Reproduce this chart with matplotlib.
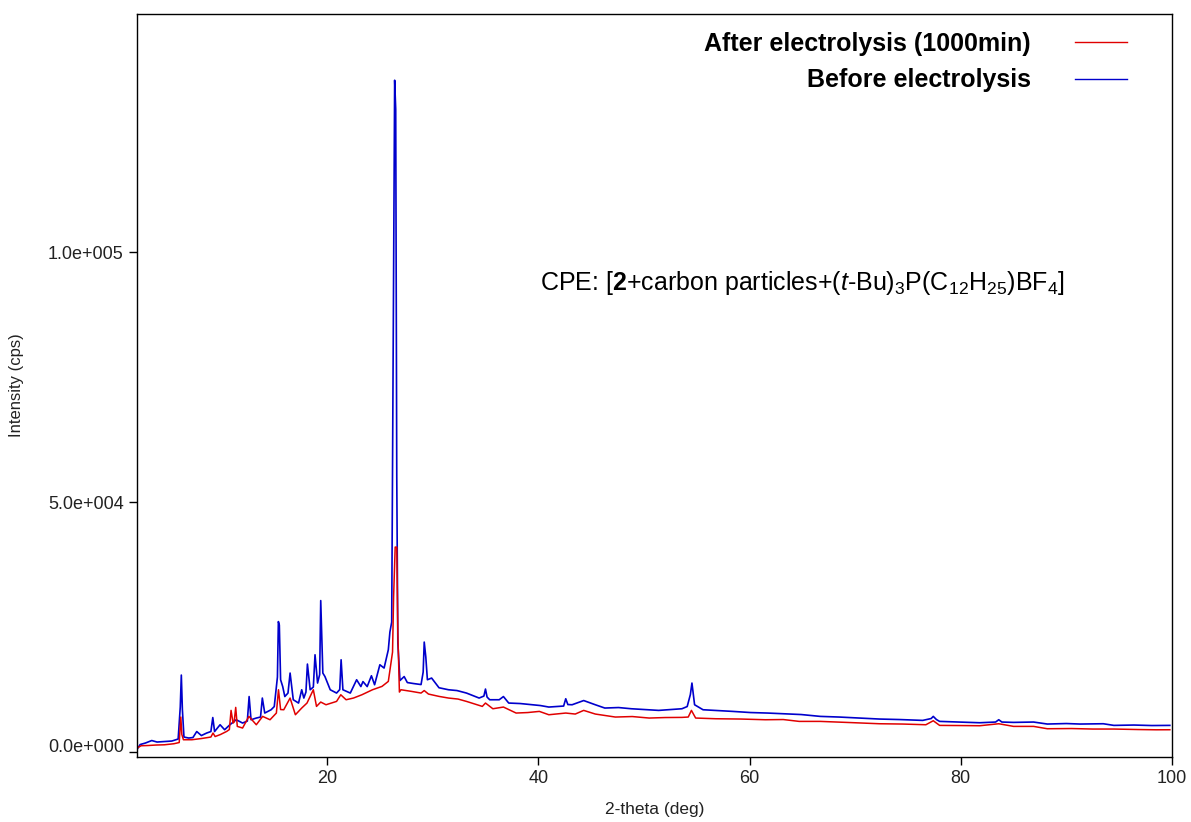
import matplotlib
matplotlib.use("Agg")
import matplotlib.pyplot as plt
from matplotlib.ticker import FuncFormatter
from matplotlib.lines import Line2D
from matplotlib.transforms import ScaledTranslation

plt.rcParams["font.family"] = ["Liberation Sans", "DejaVu Sans"]
plt.rcParams["mathtext.fontset"] = "custom"
plt.rcParams["mathtext.rm"] = "Liberation Sans"
plt.rcParams["mathtext.it"] = "Liberation Sans:italic"
plt.rcParams["mathtext.bf"] = "Liberation Sans:bold"

# valori (2-theta in gradi, intensita in cps)
theta_prima = [2.0, 2.3, 2.8, 3.4, 3.9, 4.6, 5.3, 5.9, 6.1, 6.2, 6.3, 6.45, 6.9, 7.3,
               7.66, 8.1, 8.6, 9.0, 9.18, 9.35, 9.87, 10.3, 10.8, 11.4, 12.0, 12.45, 12.62,
               12.8, 13.3, 13.7, 13.87, 14.1, 14.7, 15.0, 15.3, 15.39, 15.48, 15.6, 15.8,
               16.0, 16.3, 16.5, 16.8, 17.3, 17.6, 17.8, 18.0, 18.14, 18.4, 18.7, 18.86,
               19.1, 19.3, 19.4, 19.6, 19.8, 20.3, 20.9, 21.2, 21.33, 21.5, 22.2, 22.8,
               23.2, 23.4, 23.8, 24.2, 24.5, 25.0, 25.4, 25.8, 25.95, 26.12, 26.3, 26.4,
               26.5, 26.6, 26.7, 26.9, 27.3, 27.6, 28.2, 28.9, 29.1, 29.2, 29.35, 29.5,
               29.9, 30.6, 31.5, 32.3, 33.2, 34.4, 34.85, 35.0, 35.15, 35.4, 36.3, 36.7,
               37.2, 38.3, 39.5, 40.2, 41.0, 42.4, 42.6, 42.8, 43.2, 44.3, 45.4, 46.3,
               47.6, 48.8, 50.1, 51.4, 52.5, 53.6, 54.1, 54.4, 54.55, 54.8, 55.6, 57.0,
               58.4, 60.1, 61.7, 63.2, 64.9, 66.7, 68.5, 70.4, 72.3, 74.2, 76.4, 77.2,
               77.4, 77.7, 78.0, 79.9, 81.8, 83.3, 83.6, 83.9, 85.0, 86.9, 88.2, 90.0,
               91.3, 93.5, 94.5, 96.4, 98.1, 99.8]
int_prima = [500, 1500, 1800, 2300, 2000, 2100, 2200, 2600, 9000, 15400, 8500, 3000, 2800, 2900,
             4100, 3300, 3800, 4100, 6900, 4100, 5460, 4460, 5460, 6460, 5800, 6200, 11100,
             6460, 6800, 7000, 10800, 7800, 8460, 9100, 15000, 26100, 25400, 14460, 13100,
             11100, 11800, 15800, 10460, 9800, 12460, 10800, 12000, 17600, 12460, 13000, 19460,
             13800, 15500, 30300, 15800, 15100, 12460, 11800, 12500, 18460, 12460, 11800, 14460,
             13100, 14100, 13100, 15260, 13460, 17460, 16800, 20460, 24000, 26000, 95000, 134400,
             128600, 55000, 21900, 14300, 15100, 13900, 13700, 13500, 16000, 22000, 19000, 14460,
             14800, 12860, 12460, 12300, 11800, 10800, 11200, 12600, 11000, 10460, 10460, 11100,
             9800, 9700, 9460, 9300, 9000, 9200, 10660, 9500, 9460, 10300, 9460, 8800,
             8900, 8660, 8500, 8330, 8500, 8660, 9100, 11500, 13800, 9460, 8460, 8300,
             8130, 7900, 7800, 7660, 7500, 7130, 7000, 6800, 6600, 6500, 6330, 6700,
             7130, 6500, 6130, 6000, 5860, 6000, 6460, 6000, 5930, 6000, 5600, 5700,
             5600, 5660, 5330, 5400, 5300, 5330]

theta_dopo = [2.0, 2.4, 3.0, 3.8, 4.6, 5.5, 6.0, 6.15, 6.25, 6.4, 7.2, 8.1, 9.0, 9.2, 9.4,
              9.9, 10.5, 10.75, 10.91, 11.1, 11.2, 11.35, 11.5, 12.0, 12.6, 13.3, 13.9,
              14.6, 15.2, 15.4, 15.6, 15.9, 16.5, 17.0, 17.6, 18.1, 18.7, 19.0, 19.4,
              19.9, 20.9, 21.3, 21.8, 22.5, 23.3, 24.3, 25.2, 25.8, 26.2, 26.3, 26.45,
              26.6, 26.7, 26.85, 27.0, 28.0, 28.9, 29.2, 29.6, 30.6, 31.5, 32.4, 33.2,
              34.7, 35.0, 35.7, 36.7, 37.9, 39.0, 40.1, 41.0, 42.6, 43.5, 44.3, 45.4,
              47.3, 48.9, 50.5, 52.0, 53.6, 54.2, 54.5, 54.9, 56.8, 59.2, 61.5, 63.2,
              64.7, 66.7, 69.5, 72.3, 74.5, 76.7, 77.4, 78.0, 79.9, 81.8, 83.6, 85.0,
              86.9, 88.2, 90.5, 92.5, 94.5, 96.8, 98.5, 99.8]
int_dopo = [800, 1260, 1300, 1400, 1450, 1660, 1900, 7000, 3500, 2460, 2460, 2700, 3000, 3800, 3100,
            3500, 4130, 4500, 8330, 5800, 6000, 8930, 5130, 4800, 7130, 5460, 7130,
            6460, 7800, 12460, 8500, 8460, 10800, 7460, 8800, 9800, 12460, 9130, 10000,
            9460, 10130, 11460, 10460, 10800, 11460, 12460, 13130, 14130, 20000, 31000, 41000,
            41000, 24000, 12000, 12460, 12130, 11800, 12300, 11600, 11130, 10800, 10600, 10130,
            9130, 9800, 8660, 9000, 7800, 7900, 8130, 7460, 7800, 7600, 8330, 7600,
            7000, 7100, 6800, 6900, 6930, 7000, 8330, 6800, 6660, 6600, 6460, 6500,
            6130, 6130, 5900, 5660, 5600, 5460, 6260, 5330, 5300, 5260, 5660, 5130,
            5130, 4660, 4700, 4600, 4600, 4500, 4450, 4460]

etichette = ["After electrolysis (1000min)", "Before electrolysis"]
colore_prima = "#0000cc"
colore_dopo = "#e00000"

fig = plt.figure(figsize=(11.91, 8.22), dpi=100)
ax = fig.add_axes([0.115, 0.0794, 0.869, 0.9036])

ax.plot(theta_prima, int_prima, color=colore_prima, lw=1.2)
ax.plot(theta_dopo, int_dopo, color=colore_dopo, lw=1.1)

ax.set_xlim(2, 100)
ax.set_ylim(-940, 147660)
ax.set_xticks([20, 40, 60, 80, 100])
ax.set_yticks([0, 50000, 100000])


def formato_y(v, pos):
    mant, esp = f"{v:.1e}".split("e")
    return f"{mant}e{int(esp):+04d}"


ax.yaxis.set_major_formatter(FuncFormatter(formato_y))
ax.tick_params(axis="both", direction="out", length=6, width=1, labelsize=13,
               colors="black", labelcolor="#222222")
for s in ax.spines.values():
    s.set_linewidth(1.0)

# l'etichetta dello zero sta un po' piu in alto
lab0 = ax.get_yticklabels()[0]
lab0.set_transform(lab0.get_transform() + ScaledTranslation(0, 0.07, fig.dpi_scale_trans))

ax.set_xlabel("2-theta (deg)", fontsize=12.5, color="#222222", labelpad=11)
ax.set_ylabel("Intensity (cps)", fontsize=12, color="#222222", labelpad=17)

maniglie = [Line2D([], [], color=colore_dopo, lw=1.0),
            Line2D([], [], color=colore_prima, lw=1.0)]
ax.legend(maniglie, etichette, markerfirst=False, frameon=False, loc="upper right",
          bbox_to_anchor=(1127 / 1191, 1 - 32 / 822), bbox_transform=fig.transFigure,
          prop={"weight": "bold", "size": 18}, handlelength=2.1, handletextpad=1.75,
          labelspacing=0.5, borderpad=0, borderaxespad=0)

ax.text(40.2, 93860,
        r"CPE: [$\mathbf{2}$+carbon particles+($\mathit{t}$-Bu)$_3$P(C$_{12}$H$_{25}$)BF$_4$]",
        fontsize=18, ha="left", va="center", color="black")

fig.savefig("out.png", dpi=100)
